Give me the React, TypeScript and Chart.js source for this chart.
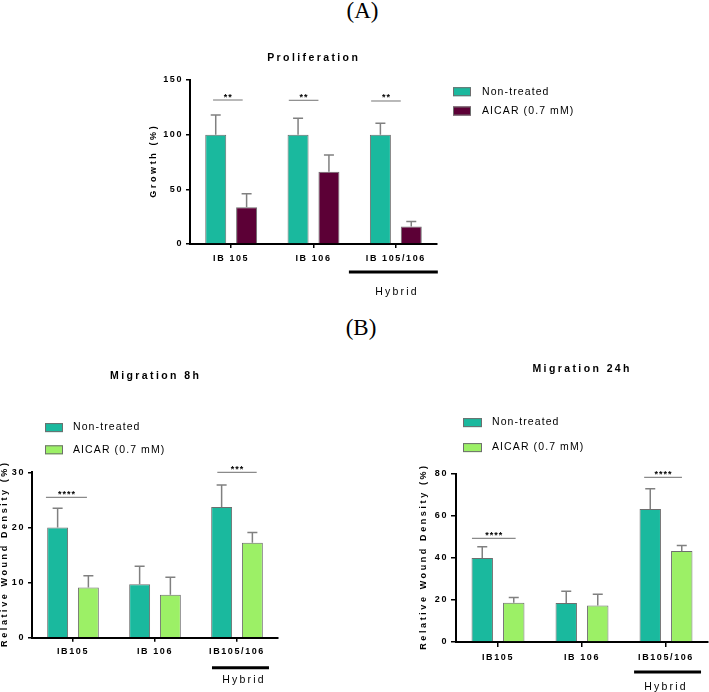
import React, { useEffect, useRef } from "react";
import { Chart, registerables } from "chart.js";
Chart.register(...registerables);

const SANS = "'Liberation Sans', Arial, Helvetica, sans-serif";
const TEAL = "#1ab99e";
const PLUM = "#5c0036";
const LIME = "#9cf066";
const EDGE = "#6e6e6e";
const ERR = "#808080";

const seriesNames = ["Non-treated", "AICAR (0.7 mM)"];

// (A) Proliferation
const profCategories = ["IB 105", "IB 106", "IB 105/106"];
const profNonTreated = [100, 100, 100];
const profNonTreatedSD = [18, 15, 10.5];
const profAicar = [33.6, 66, 16];
const profAicarSD = [12.4, 15.3, 4.5];

// (B) Migration
const migCategories = ["IB105", "IB 106", "IB105/106"];
const mig8NonTreated = [20.0, 9.7, 23.7];
const mig8NonTreatedSD = [3.5, 3.25, 4.0];
const mig8Aicar = [9.1, 7.8, 17.2];
const mig8AicarSD = [2.15, 3.15, 1.9];

const mig24NonTreated = [39.9, 18.5, 63.2];
const mig24NonTreatedSD = [5.4, 5.6, 9.7];
const mig24Aicar = [18.7, 17.3, 43.2];
const mig24AicarSD = [2.5, 5.35, 2.7];

type Sig = { group: number; from: number; to: number; y: number; label: string };

const profSig: Sig[] = [
  { group: 0, from: -0.22, to: 0.14, y: 131.7, label: "**" },
  { group: 1, from: -0.3, to: 0.06, y: 131.4, label: "**" },
  { group: 2, from: -0.3, to: 0.06, y: 130.8, label: "**" },
];
const mig8Sig: Sig[] = [
  { group: 0, from: -0.33, to: 0.17, y: 25.45, label: "****" },
  { group: 2, from: -0.24, to: 0.24, y: 30, label: "***" },
];
const mig24Sig: Sig[] = [
  { group: 0, from: -0.31, to: 0.21, y: 49.3, label: "****" },
  { group: 2, from: -0.26, to: 0.19, y: 78.3, label: "****" },
];

interface PanelCfg {
  canvas: { left: number; top: number; width: number; height: number };
  plot: { left: number; right: number; top: number; bottom: number };
  categories: string[];
  values: number[][];
  errors: number[][];
  colors: string[];
  yMax: number;
  yStep: number;
  tickLen: number;
  yPad: number;
  xPad: number;
  title: { text: string; x: number; y: number };
  yTitle: { text: string; x: number };
  legend: { boxX: number; boxW: number; textX: number; ys: number[] };
  sig: Sig[];
  hybrid: { group: number; from: number; to: number; lineDy: number; textDx: number; textDy: number };
}

const Y_W = 30;
const X_H = 20;

const panelA: PanelCfg = {
  canvas: { left: 140, top: 40, width: 480, height: 270 },
  plot: { left: 190, right: 437, top: 80, bottom: 244 },
  categories: profCategories,
  values: [profNonTreated, profAicar],
  errors: [profNonTreatedSD, profAicarSD],
  colors: [TEAL, PLUM],
  yMax: 150,
  yStep: 50,
  tickLen: 4,
  yPad: 3,
  xPad: 5,
  title: { text: "Proliferation", x: 312.5, y: 57.7 },
  yTitle: { text: "Growth (%)", x: 154 },
  legend: { boxX: 453, boxW: 18, textX: 482, ys: [91.7, 111] },
  sig: profSig,
  hybrid: { group: 2, from: -0.57, to: 0.51, lineDy: 28, textDx: 0, textDy: 48 },
};

const panelB1: PanelCfg = {
  canvas: { left: 0, top: 345, width: 330, height: 347 },
  plot: { left: 32, right: 278, top: 472.3, bottom: 637.7 },
  categories: migCategories,
  values: [mig8NonTreated, mig8Aicar],
  errors: [mig8NonTreatedSD, mig8AicarSD],
  colors: [TEAL, LIME],
  yMax: 30,
  yStep: 10,
  tickLen: 4,
  yPad: 3,
  xPad: 4,
  title: { text: "Migration 8h", x: 154.5, y: 375.7 },
  yTitle: { text: "Relative Wound Density (%)", x: 5 },
  legend: { boxX: 45, boxW: 18, textX: 73, ys: [427.6, 449.8] },
  sig: mig8Sig,
  hybrid: { group: 2, from: -0.305, to: 0.39, lineDy: 30, textDx: 6, textDy: 42.3 },
};

const panelB2: PanelCfg = {
  canvas: { left: 400, top: 345, width: 309, height: 347 },
  plot: { left: 456, right: 708, top: 473.7, bottom: 642 },
  categories: migCategories,
  values: [mig24NonTreated, mig24Aicar],
  errors: [mig24NonTreatedSD, mig24AicarSD],
  colors: [TEAL, LIME],
  yMax: 80,
  yStep: 20,
  tickLen: 5,
  yPad: 3,
  xPad: 5,
  title: { text: "Migration 24h", x: 581, y: 369.3 },
  yTitle: { text: "Relative Wound Density (%)", x: 424 },
  legend: { boxX: 463, boxW: 19, textX: 492, ys: [422.6, 447.6] },
  sig: mig24Sig,
  hybrid: { group: 2, from: -0.38, to: 0.417, lineDy: 30, textDx: -1, textDy: 45 },
};

function drawText(
  ctx: any,
  s: string,
  x: number,
  y: number,
  font: string,
  ls: number,
  align: string,
  baseline: string = "middle"
) {
  ctx.font = font;
  ctx.letterSpacing = ls + "px";
  ctx.textAlign = align;
  ctx.textBaseline = baseline;
  ctx.fillStyle = "#000";
  const shift = align === "center" ? ls / 2 : 0;
  ctx.fillText(s, x + shift, y);
}

function makeAnnotations(cfg: PanelCfg) {
  return {
    id: "annotations",
    beforeUpdate(chart: any) {
      chart.ctx.letterSpacing = "1.6px";
    },
    beforeDraw(chart: any) {
      chart.ctx.letterSpacing = "1.6px";
    },
    afterDraw(chart: any) {
      const ctx = chart.ctx;
      const xs = chart.scales.x;
      const ys = chart.scales.y;
      const ox = cfg.canvas.left;
      const oy = cfg.canvas.top;
      const area = chart.chartArea;
      const cw = xs.getPixelForValue(1) - xs.getPixelForValue(0);
      ctx.save();

      // error bars (upper whisker)
      chart.data.datasets.forEach((ds: any, i: number) => {
        const meta = chart.getDatasetMeta(i);
        const sd = cfg.errors[i];
        meta.data.forEach((bar: any, j: number) => {
          const top = ys.getPixelForValue(ds.data[j] + sd[j]);
          ctx.strokeStyle = ERR;
          ctx.lineWidth = 1.5;
          ctx.beginPath();
          ctx.moveTo(bar.x, bar.y);
          ctx.lineTo(bar.x, top);
          ctx.moveTo(bar.x - 5, top);
          ctx.lineTo(bar.x + 5, top);
          ctx.stroke();
        });
      });

      // significance
      cfg.sig.forEach((s) => {
        const c = xs.getPixelForValue(s.group);
        const x1 = c + s.from * cw;
        const x2 = c + s.to * cw;
        const y = ys.getPixelForValue(s.y);
        ctx.strokeStyle = "#8a8a8a";
        ctx.lineWidth = 1.2;
        ctx.beginPath();
        ctx.moveTo(x1, y);
        ctx.lineTo(x2, y);
        ctx.stroke();
        drawText(ctx, s.label, (x1 + x2) / 2, y - 0.5, `bold 9px ${SANS}`, 1, "center", "alphabetic");
      });

      // hybrid bracket
      const h = cfg.hybrid;
      const hc = xs.getPixelForValue(h.group);
      ctx.strokeStyle = "#000";
      ctx.lineWidth = 3;
      ctx.beginPath();
      ctx.moveTo(hc + h.from * cw, area.bottom + h.lineDy);
      ctx.lineTo(hc + h.to * cw, area.bottom + h.lineDy);
      ctx.stroke();
      drawText(ctx, "Hybrid", hc + h.textDx, area.bottom + h.textDy, `10.5px ${SANS}`, 2.2, "center");

      // title
      drawText(ctx, cfg.title.text, cfg.title.x - ox, cfg.title.y - oy, `bold 10.5px ${SANS}`, 2.4, "center");

      // legend
      cfg.legend.ys.forEach((yy, i) => {
        const y = yy - oy;
        ctx.fillStyle = cfg.colors[i];
        ctx.fillRect(cfg.legend.boxX - ox, y - 4.5, cfg.legend.boxW, 9);
        ctx.strokeStyle = EDGE;
        ctx.lineWidth = 1;
        ctx.strokeRect(cfg.legend.boxX - ox + 0.5, y - 4.5 + 0.5, cfg.legend.boxW - 1, 8);
        drawText(ctx, seriesNames[i], cfg.legend.textX - ox, y, `10.5px ${SANS}`, 1.1, "left");
      });

      // y title
      ctx.save();
      ctx.translate(cfg.yTitle.x - ox, (area.top + area.bottom) / 2);
      ctx.rotate(-Math.PI / 2);
      drawText(ctx, cfg.yTitle.text, 0, 0, `bold 9px ${SANS}`, 2.6, "center");
      ctx.restore();

      ctx.restore();
      ctx.letterSpacing = "1.6px";
    },
  };
}

function Panel({ cfg }: { cfg: PanelCfg }) {
  const ref = useRef<HTMLCanvasElement | null>(null);
  useEffect(() => {
    if (!ref.current) return;
    const c = cfg.canvas;
    const p = cfg.plot;
    const chart = new Chart(ref.current, {
      type: "bar",
      data: {
        labels: cfg.categories,
        datasets: cfg.values.map((v, i) => ({
          label: seriesNames[i],
          data: v,
          backgroundColor: cfg.colors[i],
          borderColor: EDGE,
          borderWidth: 1,
          categoryPercentage: 0.75,
          barPercentage: 0.68,
        })),
      },
      options: {
        responsive: false,
        animation: false,
        events: [],
        layout: {
          padding: {
            left: p.left - c.left - Y_W,
            right: c.left + c.width - p.right,
            top: p.top - c.top,
            bottom: c.top + c.height - p.bottom - X_H,
          },
        },
        plugins: {
          legend: { display: false },
          title: { display: false },
          tooltip: { enabled: false },
        },
        scales: {
          x: {
            type: "category",
            offset: true,
            z: 1,
            grid: {
              display: true,
              drawOnChartArea: false,
              drawTicks: true,
              tickLength: cfg.tickLen,
              offset: false,
              color: "#000",
              lineWidth: 1.5,
            },
            border: { display: true, color: "#000", width: 2 },
            ticks: {
              font: { family: SANS, size: 9, weight: "bold" },
              color: "#000",
              padding: cfg.xPad,
              maxRotation: 0,
              autoSkip: false,
            },
            afterFit: (s: any) => {
              s.height = X_H;
            },
          },
          y: {
            min: 0,
            max: cfg.yMax,
            z: 1,
            grid: {
              display: true,
              drawOnChartArea: false,
              drawTicks: true,
              tickLength: cfg.tickLen,
              color: "#000",
              lineWidth: 1.5,
            },
            border: { display: true, color: "#000", width: 2 },
            ticks: {
              stepSize: cfg.yStep,
              font: { family: SANS, size: 9, weight: "bold" },
              color: "#000",
              padding: cfg.yPad,
            },
            afterFit: (s: any) => {
              s.width = Y_W;
            },
          },
        },
      } as any,
      plugins: [makeAnnotations(cfg) as any],
    });
    return () => chart.destroy();
  }, [cfg]);
  const c = cfg.canvas;
  return (
    <canvas
      ref={ref}
      width={c.width}
      height={c.height}
      style={{ position: "absolute", left: c.left, top: c.top, width: c.width, height: c.height }}
    />
  );
}

const panelLabelStyle: React.CSSProperties = {
  position: "absolute",
  width: 100,
  textAlign: "center",
  fontFamily: "'Liberation Serif', 'Times New Roman', serif",
  fontSize: 23,
  lineHeight: "26px",
  color: "#000",
};

export default function App() {
  return (
    <div
      style={{
        position: "absolute",
        left: 0,
        top: 0,
        width: 709,
        height: 692,
        background: "#fff",
        overflow: "hidden",
      }}
    >
      <div style={{ ...panelLabelStyle, left: 362.5 - 50, top: -2.4 }}>(A)</div>
      <div style={{ ...panelLabelStyle, left: 361 - 50, top: 315.1 }}>(B)</div>
      <Panel cfg={panelA} />
      <Panel cfg={panelB1} />
      <Panel cfg={panelB2} />
    </div>
  );
}
